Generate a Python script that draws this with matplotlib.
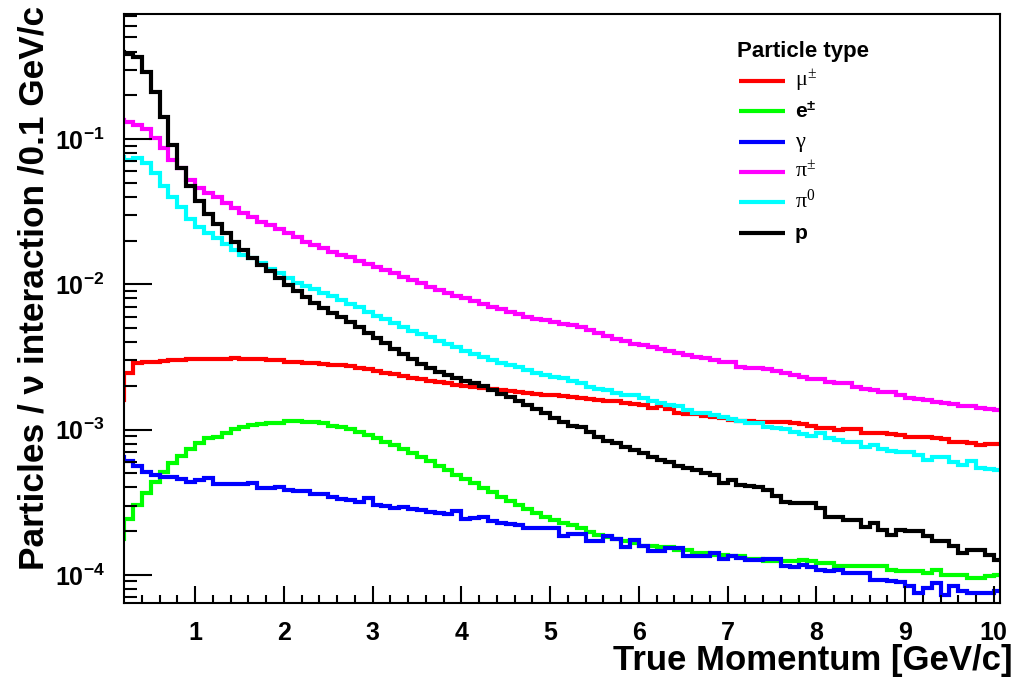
import numpy as np
import matplotlib
matplotlib.use("Agg")
import matplotlib.pyplot as plt
from matplotlib.lines import Line2D
from matplotlib.ticker import LogLocator, NullFormatter

plt.rcParams['font.family'] = ['Liberation Sans', 'DejaVu Sans']
plt.rcParams['font.weight'] = 'bold'
plt.rcParams['mathtext.fontset'] = 'custom'
plt.rcParams['mathtext.rm'] = 'Liberation Sans:bold'
plt.rcParams['mathtext.bf'] = 'Liberation Sans:bold'
plt.rcParams['mathtext.it'] = 'Liberation Sans:bold'

# ---- data: bins of 0.1 GeV/c from 0.1 to 10.1 ----
bin_low = 0.1
bin_width = 0.1
n_bins = 100

mu_pm = [0.0016,
    0.00244, 0.00286, 0.0029, 0.00291, 0.00297, 0.00302, 0.00302, 0.00305, 0.00305, 0.00306,
    0.00306, 0.00308, 0.00311, 0.00305, 0.00306, 0.00306, 0.00302, 0.00302, 0.00294, 0.00294,
    0.00289, 0.00286, 0.00282, 0.00277, 0.0028, 0.00272, 0.00266, 0.002595, 0.00253, 0.00245,
    0.0024, 0.00234, 0.00228, 0.002215, 0.00216, 0.00213, 0.00208, 0.00203, 0.002, 0.00197,
    0.001935, 0.00189, 0.00186, 0.00183, 0.0018, 0.001774, 0.00176, 0.001733, 0.00172, 0.001705,
    0.00168, 0.001644, 0.001626, 0.0016, 0.001575, 0.001563, 0.001534, 0.0015, 0.00148, 0.001403,
    0.001456, 0.001381, 0.0013, 0.001282, 0.001272, 0.001242, 0.001223, 0.001198, 0.001166, 0.001153,
    0.001139, 0.001135, 0.00113, 0.00112, 0.00113, 0.001106, 0.001086, 0.00106, 0.001022, 0.001022,
    0.000995, 0.001003, 0.001011, 0.000954, 0.00095, 0.000944, 0.000927, 0.000912, 0.000895, 0.000895,
    0.000887, 0.000877, 0.000859, 0.000827, 0.000817, 0.000814, 0.000785, 0.000797, 0.000791]

e_pm = [0.0001763,
    0.000242, 0.000303, 0.000365, 0.000439, 0.000514, 0.000593, 0.000659, 0.000733, 0.000806, 0.000873,
    0.000895, 0.000954, 0.001006, 0.001048, 0.001072, 0.001089, 0.001106, 0.001117, 0.001142, 0.001142,
    0.00113, 0.001124, 0.001106, 0.001065, 0.001035, 0.001006, 0.000969, 0.000919, 0.000873, 0.000827,
    0.000785, 0.000733, 0.000688, 0.000646, 0.000603, 0.000557, 0.000528, 0.000488, 0.000456, 0.000428,
    0.000395, 0.000369, 0.000346, 0.000323, 0.000303, 0.0002835, 0.000266, 0.00025, 0.000237, 0.000228,
    0.000221, 0.00021, 0.0001957, 0.000189, 0.000182, 0.0001763, 0.00017, 0.0001655, 0.0001585, 0.000157,
    0.0001553, 0.0001553, 0.000149, 0.000149, 0.000141, 0.000141, 0.0001375, 0.0001375, 0.0001338, 0.0001338,
    0.0001284, 0.0001284, 0.0001236, 0.0001236, 0.0001236, 0.000125, 0.000127, 0.000125, 0.0001206, 0.0001206,
    0.0001155, 0.0001155, 0.0001142, 0.0001142, 0.0001142, 0.0001155, 0.0001084, 0.0001055, 0.0001055, 0.0001055,
    0.0001029, 0.0001084, 0.0001, 0.0001, 0.0001, 0.0000951, 0.0000951, 0.0000986, 0.0001]

gamma = [0.000652,
    0.000603, 0.000557, 0.000514, 0.000488, 0.000475, 0.000475, 0.000456, 0.000439, 0.000451, 0.000463,
    0.000423, 0.000421, 0.000421, 0.000421, 0.000432, 0.000395, 0.000395, 0.000402, 0.000385, 0.000375,
    0.000375, 0.000359, 0.000361, 0.000344, 0.000334, 0.000326, 0.000318, 0.000336, 0.000301, 0.000299,
    0.000288, 0.000294, 0.000283, 0.000278, 0.00027, 0.000265, 0.000263, 0.000276, 0.000243, 0.000245,
    0.000251, 0.000236, 0.000228, 0.000223, 0.000221, 0.000211, 0.00021, 0.00021, 0.000209, 0.000186,
    0.000191, 0.000191, 0.0001716, 0.0001716, 0.000186, 0.0001763, 0.0001553, 0.0001724, 0.000157, 0.0001448,
    0.0001448, 0.0001529, 0.0001529, 0.0001338, 0.0001338, 0.0001338, 0.000141, 0.0001284, 0.0001338, 0.0001305,
    0.0001256, 0.0001256, 0.0001284, 0.0001284, 0.0001155, 0.0001137, 0.0001174, 0.0001131, 0.0001084, 0.0001055,
    0.0001084, 0.0001029, 0.0001029, 0.0001029, 0.0000925, 0.0000925, 0.0000903, 0.0000887, 0.0000832, 0.000075,
    0.0000811, 0.0000878, 0.000073, 0.0000832, 0.0000769, 0.000075, 0.000075, 0.000075, 0.0000769]

pi_pm = [0.135,
    0.1315, 0.1248, 0.1166, 0.1011, 0.0861, 0.0716, 0.0628, 0.0522, 0.0457, 0.0427,
    0.0397, 0.0361, 0.0333, 0.0311, 0.0292, 0.0270, 0.0256, 0.0239, 0.0224, 0.0210,
    0.0196, 0.0186, 0.0177, 0.01675, 0.0160, 0.01534, 0.01453, 0.01379, 0.0132, 0.01254,
    0.0119, 0.01117, 0.0107, 0.01016, 0.00963, 0.00914, 0.00875, 0.00835, 0.00801, 0.00771,
    0.00732, 0.00701, 0.00673, 0.00645, 0.00625, 0.00599, 0.00577, 0.00564, 0.00551, 0.00537,
    0.00525, 0.00509, 0.00485, 0.00462, 0.00441, 0.00423, 0.00407, 0.00388, 0.00382, 0.00369,
    0.00359, 0.0035, 0.00335, 0.00326, 0.00318, 0.00309, 0.00303, 0.00294, 0.00292, 0.00271,
    0.00266, 0.002645, 0.002615, 0.00253, 0.00245, 0.00236, 0.0023, 0.00222, 0.002215, 0.00214,
    0.0021, 0.00208, 0.00197, 0.001895, 0.00186, 0.001825, 0.0018, 0.001733, 0.00166, 0.001626,
    0.0016, 0.001558, 0.001526, 0.0015, 0.001456, 0.001444, 0.001403, 0.00139, 0.001355]

pi_0 = [0.0747,
    0.0716, 0.0736, 0.0686, 0.058, 0.0474, 0.040, 0.0342, 0.028, 0.0249, 0.0226,
    0.0207, 0.0189, 0.0172, 0.0159, 0.0151, 0.01408, 0.01268, 0.0119, 0.0110, 0.01025,
    0.00973, 0.00921, 0.00871, 0.00824, 0.0078, 0.00732, 0.00695, 0.00648, 0.00608, 0.00574,
    0.00539, 0.00506, 0.0048, 0.00455, 0.00432, 0.00409, 0.00388, 0.00369, 0.00349, 0.00332,
    0.00318, 0.00302, 0.00289, 0.00279, 0.00269, 0.00257, 0.00247, 0.00238, 0.00231, 0.00228,
    0.00217, 0.002085, 0.001976, 0.001905, 0.00186, 0.001797, 0.001733, 0.00172, 0.001644, 0.001583,
    0.00152, 0.00148, 0.001444, 0.001366, 0.001309, 0.001292, 0.001262, 0.001217, 0.001185, 0.001148,
    0.001117, 0.001103, 0.001048, 0.001027, 0.001003, 0.000969, 0.000934, 0.000905, 0.000944, 0.000873,
    0.00085, 0.000827, 0.000824, 0.000764, 0.000785, 0.000733, 0.000714, 0.000706, 0.000703, 0.00067,
    0.000619, 0.000652, 0.000644, 0.000595, 0.000572, 0.000603, 0.000543, 0.000537, 0.000528]

proton = [0.398,
    0.384, 0.365, 0.290, 0.210, 0.141, 0.0908, 0.0628, 0.0474, 0.0376, 0.0304,
    0.0260, 0.0224, 0.0196, 0.0172, 0.0152, 0.0136, 0.01235, 0.01105, 0.0099, 0.0090,
    0.00818, 0.00743, 0.00682, 0.00635, 0.00596, 0.00551, 0.00511, 0.00465, 0.00425, 0.00393,
    0.00359, 0.00332, 0.00306, 0.00283, 0.00266, 0.00249, 0.00236, 0.00225, 0.00216, 0.00208,
    0.00200, 0.001875, 0.00176, 0.00168, 0.001575, 0.00148, 0.00139, 0.00130, 0.00120, 0.00113,
    0.00105, 0.00104, 0.000969, 0.000895, 0.000836, 0.000806, 0.00076, 0.000725, 0.000692, 0.000649,
    0.000619, 0.0006, 0.000557, 0.000545, 0.000528, 0.000501, 0.000488, 0.000428, 0.000451, 0.000417,
    0.00041, 0.000403, 0.000385, 0.00035, 0.000315, 0.000312, 0.000312, 0.00031, 0.000288, 0.000252,
    0.000252, 0.000239, 0.000239, 0.000215, 0.000227, 0.000204, 0.000189, 0.000204, 0.000199, 0.000199,
    0.000184, 0.00017, 0.00017, 0.000157, 0.000141, 0.000149, 0.000149, 0.0001375, 0.000127]

series = [
    (mu_pm, '#ff0000'),
    (e_pm, '#00ff00'),
    (gamma, '#0000ff'),
    (pi_pm, '#ff00ff'),
    (pi_0, '#00ffff'),
    (proton, '#000000'),
]
legend_title = 'Particle type'
legend_labels = [r'μ$\mathregular{^{\pm}}$', r'e$\mathregular{^{\pm}}$', 'γ',
                 r'π$\mathregular{^{\pm}}$', r'π$\mathregular{^{0}}$', 'p']
greek = [True, False, True, True, True, False]

x_ticks = [1, 2, 3, 4, 5, 6, 7, 8, 9, 10]
x_tick_labels = ['1', '2', '3', '4', '5', '6', '7', '8', '9', '10']
y_ticks = [1e-4, 1e-3, 1e-2, 1e-1]
y_tick_labels = [r'$\mathbf{10^{-4}}$', r'$\mathbf{10^{-3}}$', r'$\mathbf{10^{-2}}$', r'$\mathbf{10^{-1}}$']

edges = np.round(bin_low + bin_width * np.arange(n_bins + 1), 3)

W, H = 1017, 678
fig = plt.figure(figsize=(W / 100, H / 100), dpi=100)
ax = fig.add_axes([124 / W, 1 - 603 / H, (1000 - 124) / W, (603 - 14) / H])

for vals, col in series:
    sp = ax.stairs(np.array(vals), edges, baseline=None, color=col, lw=3.0)
    sp.set_joinstyle('miter')

ax.set_yscale('log')
ax.set_xlim(0.2, 10.07)
ax.set_ylim(6.4e-5, 0.725)

ax.set_xticks(x_ticks, x_tick_labels)
ax.set_xticks([v / 10 for v in range(4, 101, 2) if v % 10 != 0], minor=True)
ax.set_yticks(y_ticks, y_tick_labels)
ax.yaxis.set_minor_locator(LogLocator(base=10, subs=np.arange(2, 10), numticks=20))
ax.yaxis.set_minor_formatter(NullFormatter())

for s in ax.spines.values():
    s.set_linewidth(1.5)
ax.tick_params(axis='both', which='both', direction='in', top=False, right=False, width=1.5)
ax.tick_params(axis='x', which='major', length=12, pad=13, labelsize=18)
ax.tick_params(axis='x', which='minor', length=6)
ax.tick_params(axis='y', which='major', length=20, pad=14, labelsize=18)
ax.tick_params(axis='y', which='minor', length=9.6)

fig.text(1013 / W, 1 - 670 / H, 'True Momentum [GeV/c]', ha='right', va='baseline',
         fontsize=25, fontweight='bold')
fig.text(43.5 / W, 1 - 6 / H, 'Particles / ν interaction /0.1 GeV/c', rotation=90,
         rotation_mode='anchor', ha='right', va='baseline', fontsize=25.4, fontweight='bold')

# ---- legend (ROOT TLegend style, no frame) ----
fig.text(737 / W, 1 - 56.5 / H, legend_title, ha='left', va='baseline',
         fontsize=16, fontweight='bold')
row0, row_step = 80.7, 30.4
for i, ((vals, col), lab, g) in enumerate(zip(series, legend_labels, greek)):
    yrow = row0 + i * row_step
    fig.add_artist(Line2D([739 / W, 785 / W], [1 - yrow / H, 1 - yrow / H],
                          transform=fig.transFigure, color=col, lw=3.0,
                          solid_capstyle='butt'))
    if g:
        fig.text(795 / W, 1 - (yrow + 5.5) / H, lab, ha='left', va='baseline',
                 fontsize=16, fontweight='normal', family=['Liberation Serif', 'DejaVu Serif'])
    else:
        fig.text(795 / W, 1 - (yrow + 6.5) / H, lab, ha='left', va='baseline',
                 fontsize=15, fontweight='bold')

fig.savefig('out.png', dpi=100)
